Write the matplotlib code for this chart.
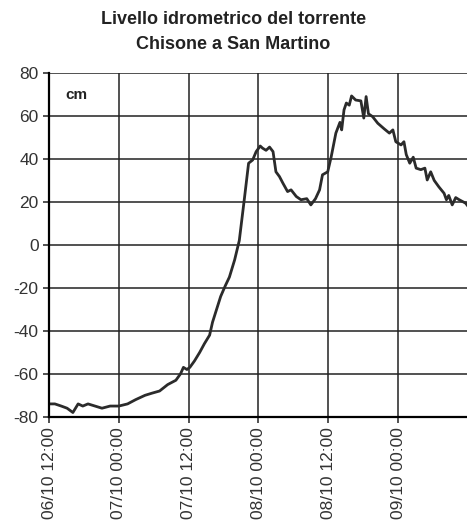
import matplotlib.pyplot as plt
import numpy as np

plt.rcParams['font.family'] = ['Liberation Sans', 'DejaVu Sans']
plt.rcParams['axes.unicode_minus'] = False

# hours after 06/10 12:00 and water level [cm]
hours = [0.0, 1.0, 2.1, 3.1, 4.1, 5.0, 5.8, 6.7, 7.9, 9.1, 10.5, 12.0, 13.5, 14.9,
         16.5, 17.7, 19.0, 20.4, 21.8, 22.6, 23.1, 23.7, 24.2, 25.0, 25.9, 26.7,
         27.6, 28.1, 28.8, 29.5, 30.3, 31.0, 31.9, 32.7, 33.6, 34.3, 35.0, 35.6,
         36.3, 36.7, 37.3, 37.9, 38.5, 39.0, 39.6, 40.2, 41.0, 41.6, 42.5, 43.3,
         44.3, 45.0, 45.8, 46.5, 47.0, 47.9, 48.5, 49.3, 50.0, 50.3, 50.7, 51.1,
         51.6, 52.0, 52.7, 53.6, 54.1, 54.5, 54.9, 55.6, 56.5, 57.6, 58.5, 59.1,
         59.6, 60.5, 61.0, 61.4, 62.0, 62.6, 63.1, 63.9, 64.6, 65.0, 65.6, 66.2,
         67.0, 67.9, 68.3, 68.7, 69.3, 69.9, 70.5, 71.6, 72.0]
level = [-74, -74, -75, -76, -78, -74, -75, -74, -75, -76, -75, -75, -74, -72,
         -70, -69, -68, -65, -63, -60, -57, -58, -57, -54, -50, -46,
         -42, -36, -30, -24, -19, -15, -7, 2, 22, 38, 39.5, 43.4,
         46, 45, 44, 45.5, 43.4, 34, 31.8, 28.7, 24.8, 25.6, 22.5, 21,
         21.5, 18.6, 21.5, 25.6, 32.6, 34, 41, 52, 57, 53.5, 62.8, 66,
         65, 69.3, 67.4, 67, 59, 69, 61, 59.7, 56.6, 54, 52, 53.5,
         48, 46.5, 48, 42, 38, 40.8, 35.7, 35, 35.7, 30.2, 34, 30,
         27, 24, 21, 23, 18.6, 22, 21, 19.4, 18]

tick_hours = [0, 12, 24, 36, 48, 60]
tick_labels = ['06/10 12:00', '07/10 00:00', '07/10 12:00', '08/10 00:00',
               '08/10 12:00', '09/10 00:00']

fig = plt.figure(figsize=(4.67, 5.21), dpi=100)
ax = fig.add_axes([0.105, 0.2, 0.897, 0.66])

ax.plot(hours, level, color='#2b2b2b', lw=2.0)

ax.set_xlim(0, 72)
ax.set_ylim(-80, 80)
ax.set_yticks(np.arange(-80, 81, 20))
ax.set_xticks(tick_hours)
ax.set_xticklabels(tick_labels, rotation=90)
ax.grid(True, color='#222222', lw=1.1)
ax.set_axisbelow(True)
for s in ['top', 'right']:
    ax.spines[s].set_visible(False)
ax.spines['left'].set_linewidth(1.6)
ax.spines['bottom'].set_linewidth(1.6)
ax.tick_params(axis='both', labelsize=12.5, colors='#333333', length=4, width=1.2)

ax.text(0.04, 0.955, 'cm', transform=ax.transAxes, fontsize=11, fontweight='bold',
        va='top', color='#222222')

fig.suptitle('Livello idrometrico del torrente\nChisone a San Martino', x=0.5, y=0.978,
             fontsize=13, fontweight='bold', color='#222222', linespacing=1.6)

fig.savefig('out.png', dpi=100)
